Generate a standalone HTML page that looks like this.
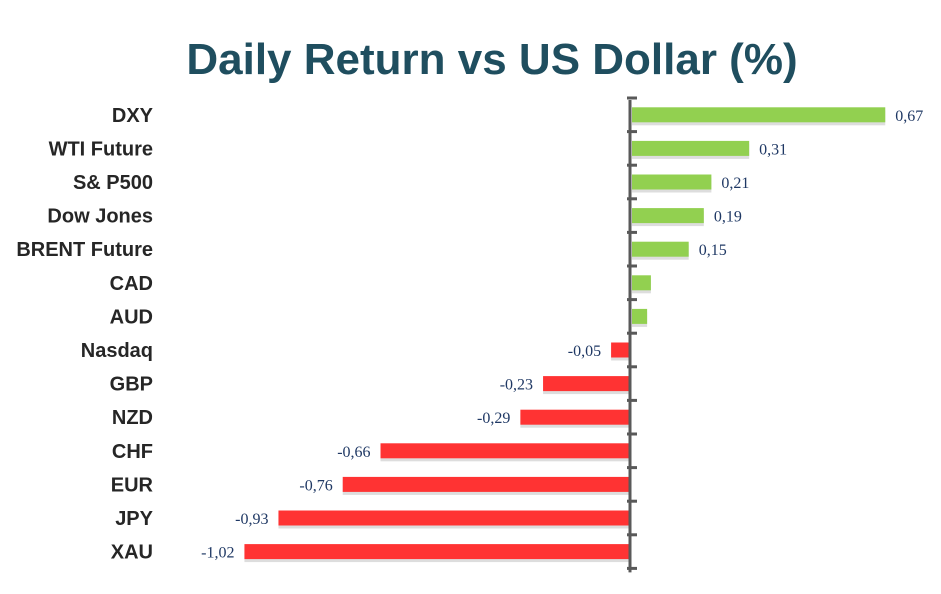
<!DOCTYPE html>
<html><head><meta charset="utf-8"><style>
body{margin:0;background:#fff;width:941px;height:589px;overflow:hidden}
svg text{font-family:"Liberation Sans",sans-serif}
</style></head><body>
<svg id="chart" width="941" height="589" viewBox="0 0 941 589" xmlns="http://www.w3.org/2000/svg">
<text x="492" y="74" text-anchor="middle" font-size="44" font-weight="bold" fill="#1f4e5f">Daily Return vs US Dollar (%)</text>
<g id="bars"></g>
</svg>
<script>
const categories=["DXY","WTI Future","S& P500","Dow Jones","BRENT Future","CAD","AUD","Nasdaq","GBP","NZD","CHF","EUR","JPY","XAU"];
const values=[0.67,0.31,0.21,0.19,0.15,0.05,0.04,-0.05,-0.23,-0.29,-0.66,-0.76,-0.93,-1.02];
const labels=["0,67","0,31","0,21","0,19","0,15","","","-0,05","-0,23","-0,29","-0,66","-0,76","-0,93","-1,02"];
const NS="http://www.w3.org/2000/svg";
const g=document.getElementById('bars');
const x0=630,scale=378,yStart=98,step=33.6,bh=15;
const xs=v=>x0+v*scale;
const yc=i=>yStart+step*(i+0.5);
function mk(t,a){const e=document.createElementNS(NS,t);for(const k in a)e.setAttribute(k,a[k]);g.appendChild(e);return e;}
categories.forEach((c,i)=>{
  const v=values[i],y=yc(i);
  const x1=Math.min(xs(0),xs(v)),w=Math.abs(xs(v)-xs(0));
  const sh=mk('rect',{x:x1+(v>0?2:0),y:y-bh/2+3,width:w,height:bh,fill:'#ddd'});
  
  
  const r=mk('rect',{x:v>0?x1+2:x1,y:y-bh/2,width:w,height:bh,fill:v>=0?'#92d050':'#ff3333'});
  
  
  const t=mk('text',{x:153,y:y+7,'text-anchor':'end','font-size':20,'font-weight':'bold',fill:'#262626'});
  t.textContent=c;
  
  
  if(labels[i]){
    const vt=mk('text',{x:v>=0?xs(v)+12:xs(v)-10,y:y+6,'text-anchor':v>=0?'start':'end','font-size':16,fill:'#1f3864'});
    vt.style.fontFamily='"Liberation Serif",serif';
    vt.textContent=labels[i];
    
    
  }
});
const ax=mk('line',{x1:x0,y1:yStart+2,x2:x0,y2:yStart+step*categories.length+4,stroke:'#595959','stroke-width':3});


for(let i=0;i<=categories.length;i++){
  const y=yStart+step*i;
  const tk=mk('line',{x1:x0-3,y1:y,x2:x0+7,y2:y,stroke:'#595959','stroke-width':3});
  
  
}
</script>
</body></html>
